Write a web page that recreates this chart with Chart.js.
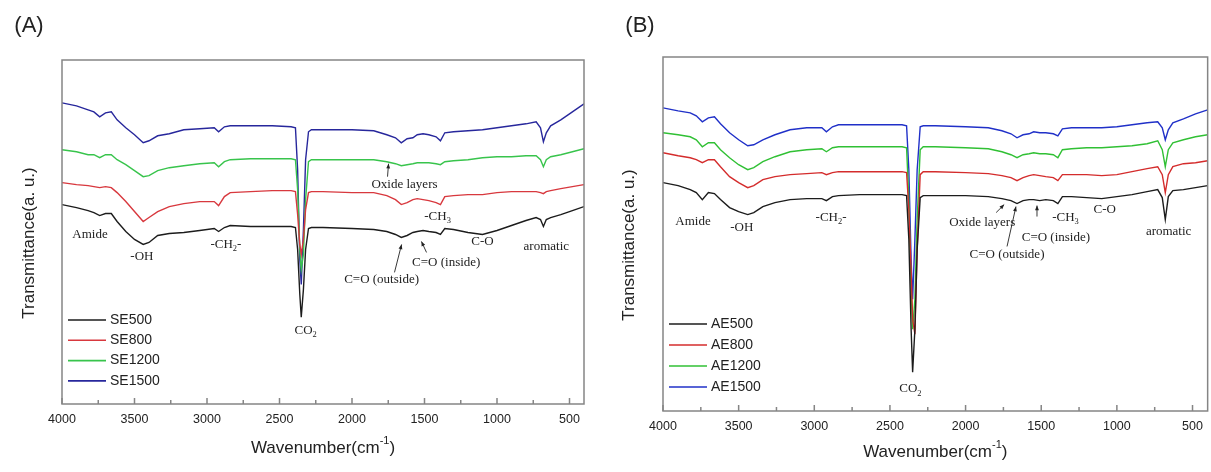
<!DOCTYPE html>
<html>
<head>
<meta charset="utf-8">
<script src="https://cdn.jsdelivr.net/npm/chart.js@4.4.0/dist/chart.umd.min.js"></script>
<style>
  html, body { margin: 0; padding: 0; background: #fff; width: 1211px; height: 472px; overflow: hidden; }
  .panel { position: absolute; top: 0; height: 472px; }
  #wrapA { left: 0; width: 600px; }
  #wrapB { left: 600px; width: 611px; }
</style>
</head>
<body>
<div class="panel" id="wrapA"><canvas id="chartA"></canvas></div>
<div class="panel" id="wrapB"><canvas id="chartB"></canvas></div>
<script>
// wavenumber grid (cm-1), shared by every spectrum
const wavenumbers = [4000, 3900, 3820, 3780, 3740, 3700, 3660, 3620, 3560, 3500,
  3440, 3400, 3340, 3260, 3160, 3050, 2950, 2920, 2880, 2840,
  2700, 2550, 2420, 2390, 2375, 2360, 2350, 2335, 2320, 2300,
  2280, 2200, 2000, 1850, 1760, 1700, 1660, 1620, 1580, 1550,
  1510, 1470, 1420, 1390, 1360, 1300, 1200, 1100, 1000, 900,
  800, 730, 700, 680, 660, 630, 560, 480, 400];

const xTicks = [4000, 3500, 3000, 2500, 2000, 1500, 1000, 500];
const xMinor = [3750, 3250, 2750, 2250, 1750, 1250, 750];

// panel (A) transmittance, arbitrary units (curves offset)
const se500 = [200, 197, 194, 192, 189, 191, 191, 183, 173, 165,
  160, 162, 169, 171, 172, 174, 176, 173, 177, 179,
  178, 178, 178, 177, 155, 110, 87, 115, 155, 176,
  177, 177, 176, 175, 173, 170, 167, 169, 172, 173,
  174, 173, 172, 170, 176, 175, 172, 170, 174, 179,
  184, 187, 185, 178, 185, 187, 190, 194, 198];
const se800 = [222, 220, 219, 218, 217, 218, 217, 212, 203, 193,
  183, 187, 193, 198, 201, 203, 203, 199, 208, 212,
  213, 214, 214, 213, 190, 160, 150, 165, 195, 212,
  213, 213, 212, 212, 209, 205, 200, 202, 205, 206,
  205, 204, 202, 200, 208, 209, 210, 210, 212, 213,
  213, 213, 212, 211, 213, 214, 216, 218, 220];
const se1200 = [255, 253, 250, 250, 247, 250, 250, 245, 240, 234,
  228, 229, 234, 237, 239, 241, 242, 238, 243, 245,
  246, 246, 246, 245, 215, 155, 135, 150, 205, 243,
  245, 245, 245, 245, 243, 241, 239, 240, 241, 242,
  242, 242, 241, 240, 243, 244, 245, 247, 248, 248,
  249, 249, 245, 238, 245, 248, 250, 253, 256];
const se1500 = [302, 299, 295, 293, 288, 292, 293, 285, 277, 270,
  262, 264, 269, 271, 275, 276, 277, 273, 278, 279,
  279, 279, 278, 277, 235, 145, 120, 175, 245, 273,
  275, 275, 275, 274, 270, 267, 262, 266, 267, 270,
  271, 270, 268, 264, 272, 273, 274, 275, 277, 279,
  281, 283, 277, 263, 272, 279, 285, 293, 301];

// panel (B)
const ae500 = [229, 226, 222, 219, 212, 219, 218, 212, 204, 200,
  197, 199, 205, 209, 212, 213, 213, 211, 215, 216,
  217, 217, 217, 216, 172, 82, 39, 82, 162, 214,
  216, 216, 216, 215, 213, 211, 208, 211, 212, 212,
  211, 212, 211, 208, 215, 215, 214, 213, 215, 217,
  220, 222, 214, 192, 215, 221, 222, 224, 226];
const ae800 = [259, 256, 254, 252, 249, 252, 252, 245, 235, 229,
  224, 226, 232, 235, 237, 238, 239, 237, 239, 240,
  240, 240, 240, 239, 202, 142, 92, 77, 162, 237,
  240, 240, 239, 238, 236, 234, 231, 234, 236, 237,
  236, 235, 234, 231, 237, 237, 237, 236, 237, 240,
  243, 245, 237, 219, 237, 245, 248, 249, 251];
const ae1200 = [279, 277, 275, 272, 265, 269, 269, 262, 254, 247,
  242, 244, 250, 255, 260, 262, 263, 260, 264, 265,
  265, 265, 265, 264, 212, 122, 82, 112, 192, 262,
  265, 265, 264, 263, 260, 257, 254, 257, 258, 259,
  258, 258, 257, 254, 262, 263, 264, 264, 265, 266,
  268, 271, 262, 245, 262, 269, 272, 275, 277];
const ae1500 = [304, 301, 299, 296, 290, 294, 295, 288, 279, 272,
  266, 267, 272, 277, 282, 284, 284, 280, 285, 287,
  287, 287, 287, 286, 242, 152, 112, 172, 242, 285,
  286, 286, 285, 284, 281, 278, 274, 277, 278, 280,
  279, 279, 278, 276, 283, 284, 284, 284, 285, 287,
  289, 290, 284, 272, 282, 289, 293, 298, 302];

const namesA = ['SE500', 'SE800', 'SE1200', 'SE1500'];
const namesB = ['AE500', 'AE800', 'AE1200', 'AE1500'];
const colorsA = ['#1c1c1c', '#d8383e', '#38c44c', '#27279c'];
const colorsB = ['#1c1c1c', '#d42c2c', '#30c034', '#2030c8'];

// band assignments: [label, wavenumber, a.u.]
const notesA = [
  ['Amide', 3807, 170], ['-OH', 3449, 148], ['-CH_{2}-', 2870, 160], ['CO_{2}', 2320, 74],
  ['Oxide layers', 1638, 220], ['-CH_{3}', 1410, 188], ['C-O', 1100, 163], ['aromatic', 660, 158],
  ['C=O (inside)', 1350, 142], ['C=O (outside)', 1796, 125]
];
const arrowsA = [[1755, 228, 1748, 241], [1486, 152, 1521, 163], [1707, 132, 1658, 160]];
const notesB = [
  ['Amide', 3802, 190], ['-OH', 3479, 184], ['-CH_{2}-', 2889, 194], ['CO_{2}', 2365, 22],
  ['Oxide layers', 1890, 189], ['-CH_{3}', 1340, 194], ['C-O', 1080, 202], ['aromatic', 658, 180],
  ['C=O (inside)', 1403, 174], ['C=O (outside)', 1726, 157]
];
const arrowsB = [[1798, 199, 1745, 207], [1528, 195, 1528, 206], [1726, 165, 1667, 205]];

function richText(ctx, str, cx, cy, size, family) {
  const parts = [];
  const re = /(_|\^)\{([^}]*)\}/g;
  let last = 0, m;
  while ((m = re.exec(str))) {
    if (m.index > last) parts.push([str.slice(last, m.index), 0]);
    parts.push([m[2], m[1] === '_' ? 1 : -1]);
    last = re.lastIndex;
  }
  if (last < str.length) parts.push([str.slice(last), 0]);
  let w = 0;
  parts.forEach(p => {
    ctx.font = (p[1] ? size * 0.65 : size) + 'px ' + family;
    p.push(ctx.measureText(p[0]).width);
    w += p[2];
  });
  let xx = cx - w / 2;
  ctx.textBaseline = 'middle';
  ctx.textAlign = 'left';
  parts.forEach(p => {
    ctx.font = (p[1] ? size * 0.65 : size) + 'px ' + family;
    ctx.fillText(p[0], xx, cy + p[1] * size * 0.35);
    xx += p[2];
  });
}

const decor = {
  id: 'decor',
  afterDraw(chart, args, o) {
    const { ctx, chartArea: a, scales: { x, y } } = chart;
    ctx.save();
    ctx.strokeStyle = '#858585';
    ctx.lineWidth = 1.5;
    ctx.strokeRect(a.left, a.top, a.right - a.left, a.bottom - a.top);
    ctx.beginPath();
    xTicks.forEach(v => { const p = x.getPixelForValue(v); ctx.moveTo(p, a.bottom); ctx.lineTo(p, a.bottom - 6); });
    xMinor.forEach(v => { const p = x.getPixelForValue(v); ctx.moveTo(p, a.bottom); ctx.lineTo(p, a.bottom - 4); });
    ctx.stroke();

    // legend
    o.names.forEach((n, i) => {
      const yy = a.bottom - o.legendBottom + i * o.legendGap;
      ctx.strokeStyle = o.colors[i];
      ctx.lineWidth = 1.6;
      ctx.beginPath();
      ctx.moveTo(a.left + 6, yy);
      ctx.lineTo(a.left + 44, yy);
      ctx.stroke();
      ctx.fillStyle = '#222';
      ctx.font = '14px "Liberation Sans", Arial, sans-serif';
      ctx.textAlign = 'left';
      ctx.textBaseline = 'middle';
      ctx.fillText(n, a.left + 48, yy);
    });

    // band labels
    ctx.fillStyle = '#222';
    o.notes.forEach(n => richText(ctx, n[0], x.getPixelForValue(n[1]), y.getPixelForValue(n[2]), 13, '"Liberation Serif", "Times New Roman", serif'));
    ctx.strokeStyle = '#222';
    ctx.lineWidth = 0.9;
    o.arrows.forEach(r => {
      const x1 = x.getPixelForValue(r[0]), y1 = y.getPixelForValue(r[1]);
      const x2 = x.getPixelForValue(r[2]), y2 = y.getPixelForValue(r[3]);
      ctx.beginPath(); ctx.moveTo(x1, y1); ctx.lineTo(x2, y2); ctx.stroke();
      const ang = Math.atan2(y2 - y1, x2 - x1);
      ctx.beginPath();
      ctx.moveTo(x2, y2);
      ctx.lineTo(x2 - 5 * Math.cos(ang - 0.4), y2 - 5 * Math.sin(ang - 0.4));
      ctx.lineTo(x2 - 5 * Math.cos(ang + 0.4), y2 - 5 * Math.sin(ang + 0.4));
      ctx.closePath(); ctx.fill();
    });

    // axis titles and panel tag
    const sans = '"Liberation Sans", Arial, sans-serif';
    ctx.fillStyle = '#222';
    const cx = (a.left + a.right) / 2;
    ctx.font = '17px ' + sans;
    const w1 = ctx.measureText('Wavenumber(cm').width;
    ctx.font = '11px ' + sans;
    const w2 = ctx.measureText('-1').width;
    ctx.font = '17px ' + sans;
    const w3 = ctx.measureText(')').width;
    let sx = cx - (w1 + w2 + w3) / 2;
    ctx.textAlign = 'left';
    ctx.textBaseline = 'middle';
    ctx.fillText('Wavenumber(cm', sx, o.titleY);
    ctx.font = '11px ' + sans;
    ctx.fillText('-1', sx + w1, o.titleY - 7);
    ctx.font = '17px ' + sans;
    ctx.fillText(')', sx + w1 + w2, o.titleY);

    ctx.save();
    ctx.translate(o.yTitleX, o.yTitleY);
    ctx.rotate(-Math.PI / 2);
    ctx.textAlign = 'center';
    ctx.fillText('Transmittance(a. u.)', 0, 0);
    ctx.restore();

    ctx.font = '22px ' + sans;
    ctx.textAlign = 'center';
    ctx.fillText(o.tag, o.tagX, 26);
    ctx.restore();
  }
};

function makeChart(id, series, names, colors, opts) {
  new Chart(document.getElementById(id), {
    type: 'line',
    data: {
      datasets: series.map((s, i) => ({
        label: names[i],
        data: wavenumbers.map((w, k) => ({ x: w, y: s[k] })),
        borderColor: colors[i],
        borderWidth: 1.4,
        pointRadius: 0,
        tension: 0,
        fill: false
      }))
    },
    options: {
      responsive: true,
      maintainAspectRatio: false,
      animation: false,
      layout: { padding: opts.padding },
      plugins: {
        legend: { display: false },
        tooltip: { enabled: false },
        decor: Object.assign({ names: names, colors: colors }, opts.decor)
      },
      scales: {
        x: {
          type: 'linear', reverse: true, min: 400, max: 4000,
          afterBuildTicks: s => { s.ticks = xTicks.map(v => ({ value: v })); },
          grid: { display: false, drawTicks: false },
          border: { display: false },
          ticks: { padding: 8, color: '#222', maxRotation: 0, autoSkip: false,
                   callback: v => String(v),
                   font: { family: '"Liberation Sans", Arial, sans-serif', size: 12.5 } }
        },
        y: { display: false, min: 0, max: opts.ymax }
      }
    },
    plugins: [decor]
  });
}

makeChart('chartA', [se500, se800, se1200, se1500], namesA, colorsA, {
  padding: { left: 62, right: 16, top: 60, bottom: 37 },
  ymax: 345,
  decor: { notes: notesA, arrows: arrowsA, legendBottom: 84, legendGap: 20.3,
           titleY: 448, yTitleX: 29, yTitleY: 243, tag: '(A)', tagX: 29 }
});
makeChart('chartB', [ae500, ae800, ae1200, ae1500], namesB, colorsB, {
  padding: { left: 63, right: 2, top: 57, bottom: 30 },
  ymax: 355,
  decor: { notes: notesB, arrows: arrowsB, legendBottom: 87, legendGap: 21,
           titleY: 452, yTitleX: 29, yTitleY: 245, tag: '(B)', tagX: 40 }
});
</script>
</body>
</html>
